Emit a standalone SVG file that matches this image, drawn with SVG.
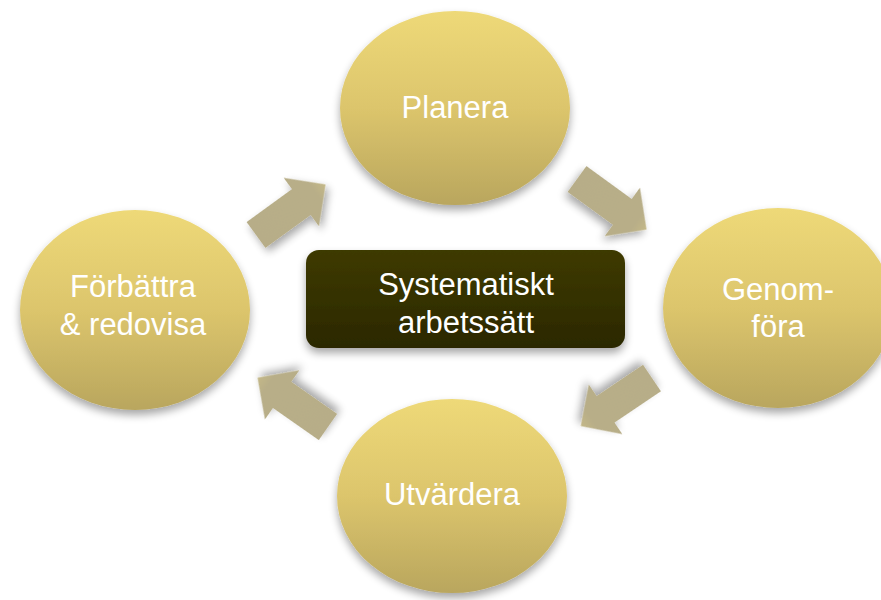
<svg xmlns="http://www.w3.org/2000/svg" width="881" height="600" viewBox="0 0 881 600">
<defs>
<linearGradient id="gold" x1="0" y1="0" x2="0" y2="1">
<stop offset="0" stop-color="#eed978"/>
<stop offset="0.5" stop-color="#dcc56c"/>
<stop offset="1" stop-color="#b9a65e"/>
</linearGradient>
<linearGradient id="dark" x1="0" y1="0" x2="0" y2="1">
<stop offset="0" stop-color="#3e3a04"/>
<stop offset="1" stop-color="#2b2800"/>
</linearGradient>
<linearGradient id="arr" x1="0" y1="0" x2="1" y2="0">
<stop offset="0" stop-color="#b7ad88"/>
<stop offset="0.85" stop-color="#b8ae88"/>
<stop offset="1" stop-color="#c4b888"/>
</linearGradient>
<filter id="sh" x="-20%" y="-20%" width="140%" height="150%">
<feGaussianBlur in="SourceAlpha" stdDeviation="4"/>
<feOffset dx="0" dy="5"/>
<feComponentTransfer><feFuncA type="linear" slope="0.35"/></feComponentTransfer>
<feMerge><feMergeNode/><feMergeNode in="SourceGraphic"/></feMerge>
</filter>
<polygon id="arrow" points="0,-16 56,-16 56,-30 86,0 56,30 56,16 0,16"/>
</defs>
<style>
.node { fill: url(#gold); filter: url(#sh); }
.lbl { font-family: "Liberation Sans", Arial, sans-serif; font-size: 31px; fill: #ffffff; text-anchor: middle; }
.arrow { fill: url(#arr); filter: url(#sh); }
</style>
<g id="connectors">
<use href="#arrow" class="arrow" transform="translate(256,235) rotate(-36)"/>
<use href="#arrow" class="arrow" transform="translate(577,179) rotate(36)"/>
<use href="#arrow" class="arrow" transform="translate(652,378) rotate(146)"/>
<use href="#arrow" class="arrow" transform="translate(328,427) rotate(-145)"/>
</g>
<g id="planera">
<ellipse class="node" cx="455" cy="108" rx="115" ry="97"/>
<text class="lbl" x="455" y="118">Planera</text>
</g>
<g id="genomfora">
<ellipse class="node" cx="778" cy="308" rx="115" ry="100"/>
<text class="lbl" x="778" y="300">Genom-</text>
<text class="lbl" x="778" y="337">föra</text>
</g>
<g id="utvardera">
<ellipse class="node" cx="452" cy="496" rx="115" ry="97"/>
<text class="lbl" x="452" y="505">Utvärdera</text>
</g>
<g id="forbattra">
<ellipse class="node" cx="135" cy="310" rx="115" ry="100"/>
<text class="lbl" x="133" y="297">Förbättra</text>
<text class="lbl" x="133" y="335">&amp; redovisa</text>
</g>
<g id="center">
<rect x="306" y="250" width="319" height="98" rx="13" ry="13" fill="url(#dark)" filter="url(#sh)"/>
<text class="lbl" x="466" y="295">Systematiskt</text>
<text class="lbl" x="466" y="333">arbetssätt</text>
</g>
</svg>
